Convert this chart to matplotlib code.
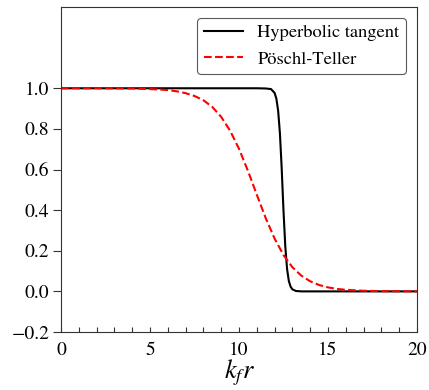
import matplotlib
matplotlib.use("Agg")
import matplotlib.pyplot as plt
from matplotlib.ticker import MultipleLocator

# Hyperbolic tangent profile
r_tanh = [0.0, 2.0, 4.0, 6.0, 8.0, 10.0, 11.0, 11.5, 11.8, 12.0, 12.1, 12.2,
          12.3, 12.4, 12.5, 12.6, 12.7, 12.8, 12.9, 13.0, 13.2, 13.5, 14.0,
          16.0, 18.0, 20.0]
f_tanh = [1.0, 1.0, 1.0, 1.0, 1.0, 1.0, 1.0, 0.999, 0.996, 0.977, 0.949, 0.889,
          0.777, 0.603, 0.397, 0.223, 0.111, 0.051, 0.023, 0.010, 0.002, 0.0, 0.0,
          0.0, 0.0, 0.0]

# Pöschl-Teller profile
r_pt = [0.0, 2.0, 4.0, 5.0, 5.5, 6.0, 6.5, 7.0, 7.5, 8.0, 8.5, 9.0, 9.5, 10.0,
        10.5, 11.0, 11.5, 12.0, 12.5, 13.0, 13.5, 14.0, 14.5, 15.0, 15.5, 16.0,
        17.0, 18.0, 20.0]
f_pt = [1.0, 1.0, 0.999, 0.996, 0.994, 0.991, 0.985, 0.976, 0.962, 0.941, 0.908,
        0.859, 0.791, 0.702, 0.594, 0.476, 0.361, 0.260, 0.179, 0.119, 0.0775,
        0.0496, 0.0314, 0.0197, 0.0123, 0.0077, 0.003, 0.0011, 0.0002]

labels = ["Hyperbolic tangent", "Pöschl-Teller"]
xticks = [0, 5, 10, 15, 20]
yticks = [-0.2, 0.0, 0.2, 0.4, 0.6, 0.8, 1.0]

plt.rcParams["font.family"] = ["STIXGeneral", "DejaVu Serif"]
plt.rcParams["mathtext.fontset"] = "stix"
plt.rcParams["font.size"] = 14

fig = plt.figure(figsize=(4.29, 3.90), dpi=100)
ax = fig.add_axes([0.1422, 0.1487, 0.8298, 0.8333])

ax.plot(r_tanh, f_tanh, color="black", lw=1.5, label=labels[0])
ax.plot(r_pt, f_pt, color="red", lw=1.5, ls="--", label=labels[1])

ax.set_xlim(0, 20)
ax.set_ylim(-0.2, 1.4)
ax.set_xticks(xticks)
ax.set_yticks(yticks)
ax.set_yticklabels([f"{v:.1f}".replace("-", "\u2212") for v in yticks])
ax.xaxis.set_minor_locator(MultipleLocator(1))

for s in ax.spines.values():
    s.set_color("0.2")

ax.tick_params(axis="x", which="both", direction="in", length=3.5, width=0.8,
               pad=7, top=False, labelsize=14, color="0.2")
ax.tick_params(axis="y", which="major", direction="out", length=5.5, width=0.8,
               pad=3, right=False, labelsize=14, color="0.2")

ax.set_xlabel("$k_f r$", fontsize=19, labelpad=-1)

leg = ax.legend(loc="upper right", fontsize=13.3, frameon=True, fancybox=True,
                edgecolor="0.35", framealpha=1.0, handlelength=2.1,
                borderaxespad=0.6, handletextpad=0.8, borderpad=0.35)
leg.get_frame().set_linewidth(0.8)

fig.savefig("out.png", dpi=100)
